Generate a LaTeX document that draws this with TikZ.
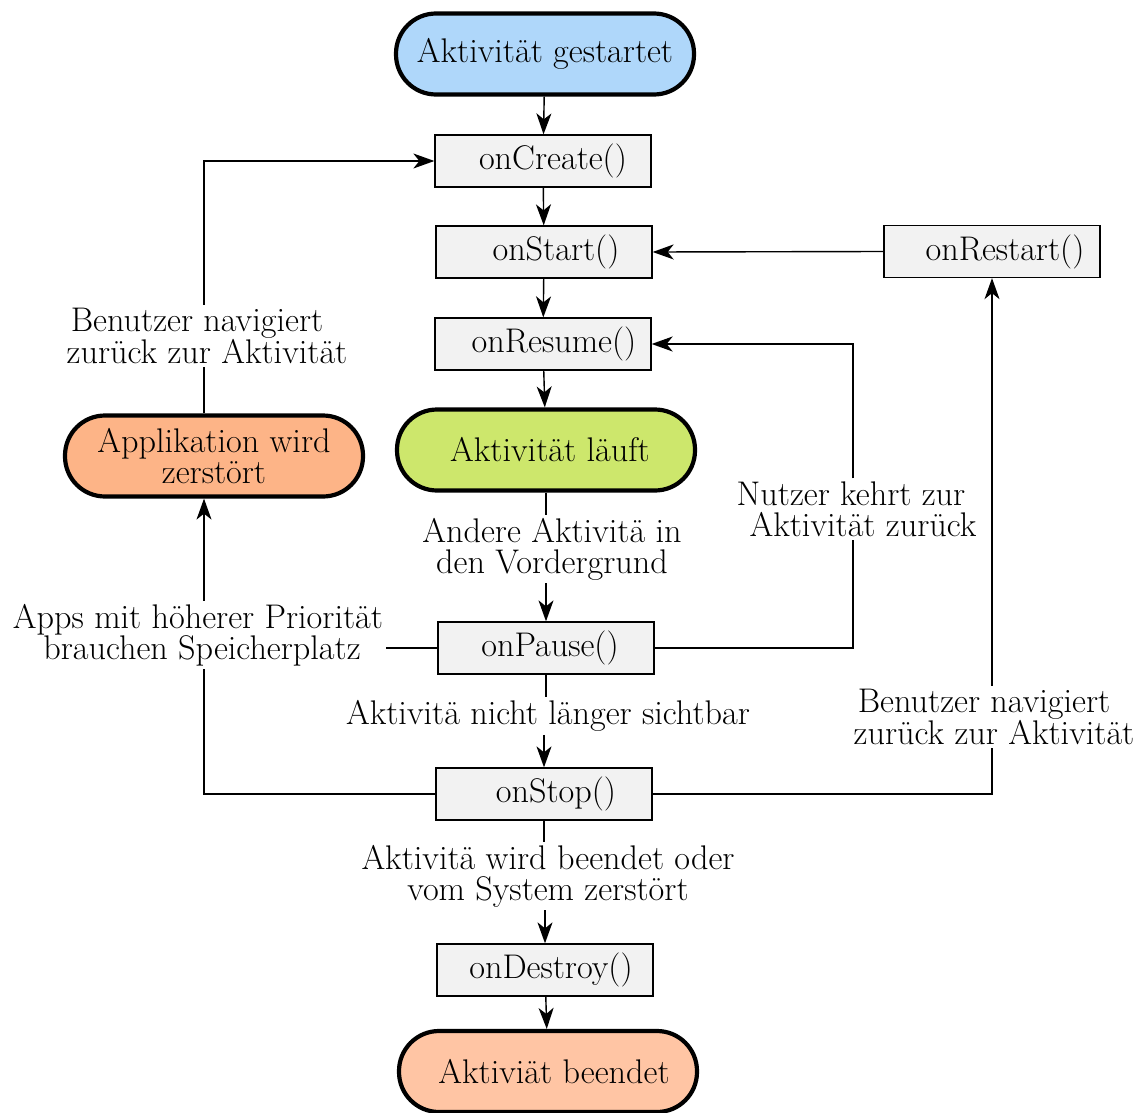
\documentclass[tikz,border=0pt]{standalone}
\usetikzlibrary{arrows.meta}
\definecolor{startblue}{RGB}{175,215,250}
\definecolor{runninggreen}{RGB}{205,231,108}
\definecolor{killedorange}{RGB}{253,180,135}
\definecolor{endpeach}{RGB}{255,197,164}
\definecolor{boxgray}{RGB}{242,242,242}
\begin{document}
\begin{tikzpicture}[x=1pt,y=-1pt,
  every node/.style={font=\fontsize{34.2}{31}\selectfont},
  terminal/.style={draw, line width=4.2pt, rounded corners=40pt,
    minimum width=298pt, minimum height=81pt, inner sep=0pt, align=center},
  method/.style={draw, fill=boxgray, line width=1.3pt,
    minimum width=216pt, minimum height=52pt, inner sep=0pt},
  edgelabel/.style={align=center, inner sep=3pt},
  link/.style={line width=1.4pt},
  flow/.style={link, -{Stealth[length=21pt,width=15pt,inset=6pt]}}]
\useasboundingbox (0,0) rectangle (1140,1113);

% lifecycle states
\node[terminal, fill=startblue] (start) at (545,54) {Aktivität gestartet};
\node[method] (create)  at (543,161) {\hspace*{20pt}onCreate()};
\node[method] (startm)  at (544,252) {\hspace*{24pt}onStart()};
\node[method] (restart) at (992,251.5) {\hspace*{26pt}onRestart()};
\node[method] (resume)  at (543,344) {\hspace*{22pt}onResume()};
\node[terminal, fill=runninggreen] (running) at (546,450) {\hspace*{8pt}Aktivität läuft};
\node[terminal, fill=killedorange] (killed) at (214,456) {Applikation wird\\zerstört};
\node[method] (pause)   at (546,648) {\hspace*{8pt}onPause()};
\node[method] (stop)    at (544,794) {\hspace*{24pt}onStop()};
\node[method] (destroy) at (545,970) {\hspace*{12pt}onDestroy()};
\node[terminal, fill=endpeach] (finished) at (548,1071.5) {\hspace*{12pt}Aktiviät beendet};

% transition labels
\node[edgelabel] (lblA) at (552,549) {Andere Aktivitä in\\den Vordergrund};
\node[edgelabel] (lblB) at (548,716) {Aktivitä nicht länger sichtbar};
\node[edgelabel] (lblC) at (548,876) {Aktivitä wird beendet oder\\vom System zerstört};
\node[edgelabel] (lblD) at (853,509) {Nutzer kehrt zur\hspace*{4pt}\\\hspace*{20pt}Aktivität zurück};
\node[edgelabel] (lblE) at (994,717) {Benutzer navigiert\hspace*{20pt}\\zurück zur Aktivität};
\node[edgelabel] (lblF) at (198,635) {Apps mit höherer Priorität\\\hspace*{8pt}brauchen Speicherplatz};
\node[edgelabel] (lblG) at (207,336) {Benutzer navigiert\hspace*{20pt}\\zurück zur Aktivität};

% left return column
\coordinate (leftcol) at (204,0);

% main sequence
\draw[flow] (start) -- (create);
\draw[flow] (create) -- (startm);
\draw[flow] (startm) -- (resume);
\draw[flow] (resume) -- (running);
\draw[flow] (running.south) -- (running.south |- lblA.north)
            (pause.north |- lblA.south) -- (pause.north);
\draw[flow] (pause.south) -- (pause.south |- lblB.north)
            (stop.north |- lblB.south) -- (stop.north);
\draw[flow] (stop.south) -- (stop.south |- lblC.north)
            (destroy.north |- lblC.south) -- (destroy.north);
\draw[flow] (destroy) -- (finished);

% restart loop
\draw[flow] (restart.west) -- (startm.east);
\draw[flow] (stop.east) -| (restart.south |- lblE.south)
            (restart.south |- lblE.north) -- (restart.south);

% resume loop
\draw[flow] (pause.east) -| (lblD.south)
            (lblD.north) |- (resume.east);

% process killed loop
\draw[link] (pause.west) -- (lblF.east |- pause.west);
\draw[flow] (stop.west) -| (leftcol |- lblF.south)
            (leftcol |- lblF.north) -- (leftcol |- killed.south);
\draw[flow] (leftcol |- killed.north) -- (leftcol |- lblG.south)
            (leftcol |- lblG.north) |- (create.west);
\end{tikzpicture}
\end{document}
